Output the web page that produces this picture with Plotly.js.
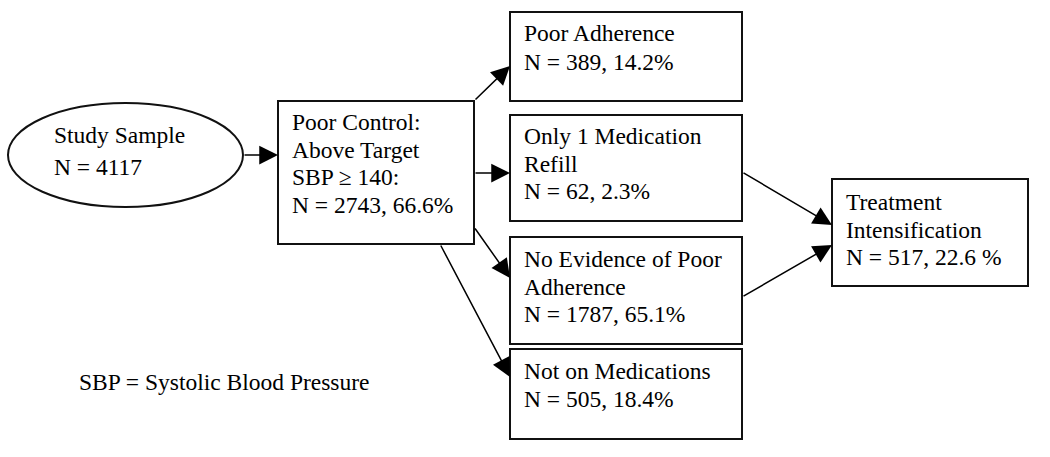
<!DOCTYPE html>
<html><head><meta charset="utf-8">
<script src="https://cdn.plot.ly/plotly-3.0.1.min.js"></script>
<style>html,body{margin:0;padding:0;background:#fff}#chart{width:1050px;height:457px}</style>
</head><body><div id="chart"></div>
<script>
// ---- content ----
const studyLabel = ["Study Sample", "N = 4117"];
const controlLabel = ["Poor Control:", "Above Target", "SBP \u2265 140:", "N = 2743, 66.6%"];
const adherenceLabel = ["Poor Adherence", "N = 389, 14.2%"];
const refillLabel = ["Only 1 Medication", "Refill", "N = 62, 2.3%"];
const noEvidenceLabel = ["No Evidence of Poor", "Adherence", "N = 1787, 65.1%"];
const notOnMedsLabel = ["Not on Medications", "N = 505, 18.4%"];
const intensLabel = ["Treatment", "Intensification", "N = 517, 22.6 %"];
const footnote = "SBP = Systolic Blood Pressure";

// ---- layout geometry (pixels) ----
const nodes = [
  {lines: studyLabel, shape: "circle", x0: 8, x1: 243, y0: 103, y1: 207, tx: 52, ty: 135, dy: 32},
  {lines: controlLabel, shape: "rect", x0: 278, x1: 474, y0: 101, y1: 244, tx: 290, ty: 122, dy: 27.7},
  {lines: adherenceLabel, shape: "rect", x0: 510, x1: 742, y0: 12, y1: 101, tx: 522, ty: 33, dy: 28.5},
  {lines: refillLabel, shape: "rect", x0: 510, x1: 742, y0: 115, y1: 221, tx: 522, ty: 136, dy: 27.5},
  {lines: noEvidenceLabel, shape: "rect", x0: 510, x1: 742, y0: 237, y1: 344, tx: 522, ty: 259, dy: 27.5},
  {lines: notOnMedsLabel, shape: "rect", x0: 510, x1: 742, y0: 349, y1: 439, tx: 522, ty: 371, dy: 28},
  {lines: intensLabel, shape: "rect", x0: 832, x1: 1028, y0: 179, y1: 286, tx: 844, ty: 202, dy: 27.5}
];
const arrows = [
  {from: [243, 155], to: [278, 155]},
  {from: [474, 101], to: [510, 66]},
  {from: [474, 173], to: [510, 173]},
  {from: [474, 227], to: [510, 278]},
  {from: [440, 244], to: [510, 377]},
  {from: [742, 172], to: [832, 225]},
  {from: [742, 297], to: [832, 245]}
];
const FONT = {family: "Liberation Serif, Times New Roman, serif", size: 23.5, color: "#000"};

const shapes = [];
const annotations = [];
nodes.forEach(n => {
  shapes.push({type: n.shape, xref: "x", yref: "y", x0: n.x0, x1: n.x1, y0: n.y0, y1: n.y1,
    line: {color: "#111", width: 2}, fillcolor: "rgba(0,0,0,0)"});
  n.lines.forEach((t, i) => {
    annotations.push({text: t, x: n.tx, y: n.ty + i * n.dy, xref: "x", yref: "y",
      xanchor: "left", yanchor: "middle", showarrow: false, font: FONT});
  });
});
arrows.forEach(a => {
  annotations.push({text: "", x: a.to[0], y: a.to[1], ax: a.from[0], ay: a.from[1],
    xref: "x", yref: "y", axref: "x", ayref: "y", showarrow: true,
    arrowhead: 2, arrowsize: 2.5, arrowwidth: 1.5, arrowcolor: "#000", standoff: 0});
});
annotations.push({text: footnote, x: 77, y: 382, xref: "x", yref: "y",
  xanchor: "left", yanchor: "middle", showarrow: false, font: FONT});

const layout = {
  width: 1050, height: 457,
  margin: {l: 0, r: 0, t: 0, b: 0},
  paper_bgcolor: "#fff", plot_bgcolor: "#fff",
  xaxis: {range: [0, 1050], visible: false, fixedrange: true},
  yaxis: {range: [457, 0], visible: false, fixedrange: true},
  showlegend: false,
  shapes: shapes,
  annotations: annotations
};
Plotly.newPlot("chart", [{x: [], y: [], type: "scatter", mode: "markers", hoverinfo: "skip"}], layout,
  {staticPlot: true, displayModeBar: false});
</script>
</body></html>
